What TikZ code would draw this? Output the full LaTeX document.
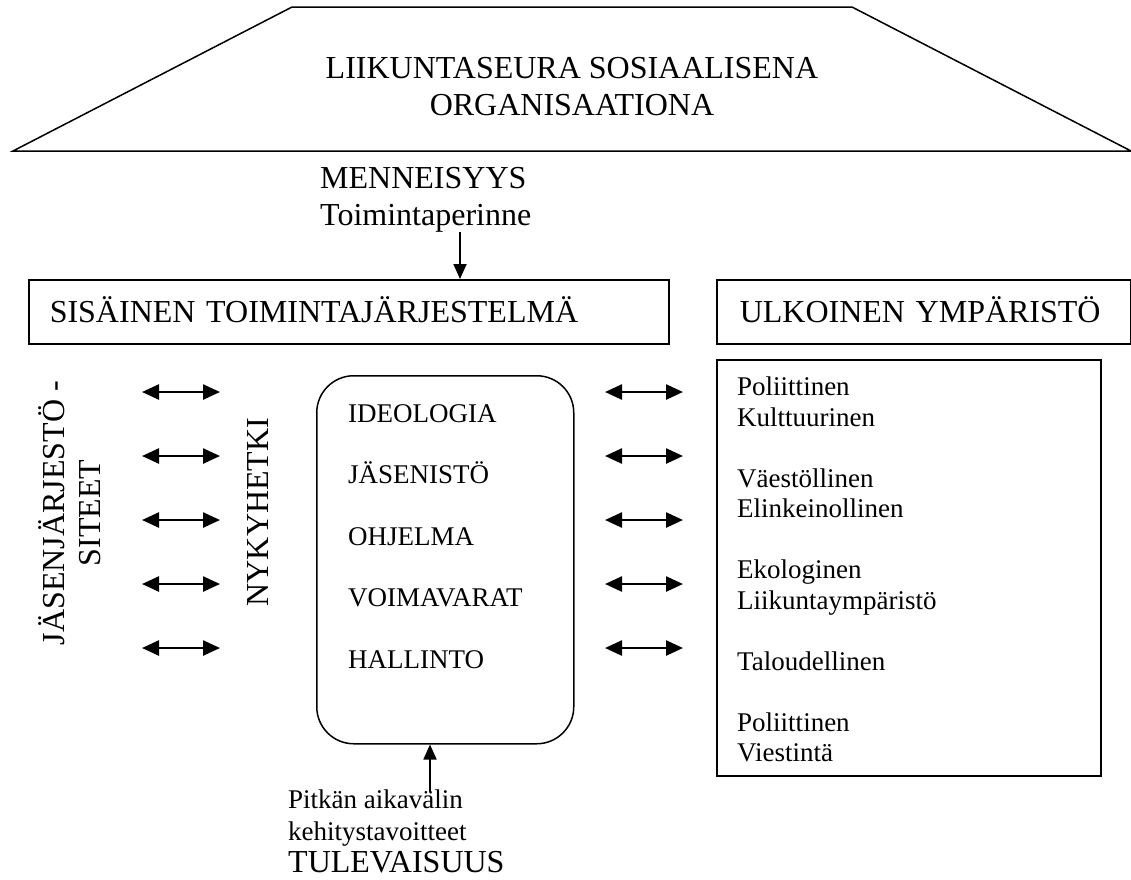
\documentclass[tikz,border=0pt]{standalone}
\usepackage{fontspec}
\setmainfont{Liberation Serif}
\usetikzlibrary{arrows.meta}
\newcommand\bigtxt{\fontsize{32}{37}\selectfont}
\newcommand\smalltxt{\fontsize{27}{30.5}\selectfont}
\tikzset{
  box/.style={draw, line width=1.5pt, inner sep=0pt},
  txt/.style={inner sep=0pt, align=left},
  arr/.style={-{Triangle[length=15pt,width=13pt]}, line width=1.8pt},
  dblarr/.style={{Triangle[length=17pt,width=15pt]}-{Triangle[length=17pt,width=15pt]}, line width=2.5pt}
}
\begin{document}
\begin{tikzpicture}[x=1pt, y=-1pt]
  \useasboundingbox (0,0) rectangle (1131,879);
  % roof
  \draw[line width=1.5pt] (13,151) -- (292,7) -- (852,7) -- (1131,151) -- cycle;
  \node[txt, align=center, font=\bigtxt] (title) at (572,87) {LIIKUNTASEURA SOSIAALISENA\\ORGANISAATIONA};
  % past
  \node[txt, font=\bigtxt, anchor=north west] (past) at (320,167) {MENNEISYYS\\Toimintaperinne};
  \node[box, font=\bigtxt, anchor=north west, minimum width=640pt, minimum height=64pt,
    text width=598pt, inner xsep=21pt, text height=21pt, text depth=0pt] (sisainen) at (28,279) {SISÄINEN TOIMINTAJÄRJESTELMÄ};
  \node[box, font=\bigtxt, anchor=north west, minimum width=414pt, minimum height=64pt,
    text width=368pt, inner xsep=23pt, text height=21pt, text depth=0pt] (ulkoinen) at (716,279) {ULKOINEN YMPÄRISTÖ};
  \coordinate (pastarr) at (460,232);
  \draw[arr] (pastarr) -- (pastarr |- sisainen.north);
  % present
  \node[txt, align=center, font={\fontsize{32}{36}\selectfont}, rotate=90] (members) at (70,513) {JÄSENJÄRJESTÖ -\\SITEET};
  \node[txt, font=\bigtxt, rotate=90] (now) at (258,512) {NYKYHETKI};
  \node[box, rounded corners=37pt, anchor=north west, minimum width=257pt, minimum height=368pt] (core) at (316,375) {};
  \foreach \t [count=\i from 0] in {IDEOLOGIA,JÄSENISTÖ,OHJELMA,VOIMAVARAT,HALLINTO}
    \node[txt, font=\smalltxt, anchor=base west] (item\i) at (348,{422+61.5*\i}) {\t};
  \foreach \y [count=\i] in {392,456,520,584,648} {
    \coordinate (la\i) at (142,\y); \coordinate (lb\i) at (220,\y);
    \coordinate (ra\i) at (605,\y); \coordinate (rb\i) at (683,\y);
    \draw[dblarr] (la\i) -- (lb\i);
    \draw[dblarr] (ra\i) -- (rb\i);
  }
  % environment
  \node[box, anchor=north west, minimum width=384pt, minimum height=416pt] (env) at (716,359) {};
  \node[txt, font=\smalltxt, anchor=north west] (envtxt) at (737,376.6) {Poliittinen\\Kulttuurinen\\[30.5pt]Väestöllinen\\Elinkeinollinen\\[30.5pt]Ekologinen\\Liikuntaympäristö\\[30.5pt]Taloudellinen\\[30.5pt]Poliittinen\\Viestintä};
  % future
  \node[txt, font={\fontsize{27}{32}\selectfont}, anchor=north west] (futtxt) at (288,789.6) {Pitkän aikavälin\\kehitystavoitteet};
  \node[txt, font=\bigtxt, anchor=base west] (fut) at (288,872) {TULEVAISUUS};
  \coordinate (futarr) at (430,792);
  \draw[arr] (futarr) -- (futarr |- core.south);
\end{tikzpicture}
\end{document}
